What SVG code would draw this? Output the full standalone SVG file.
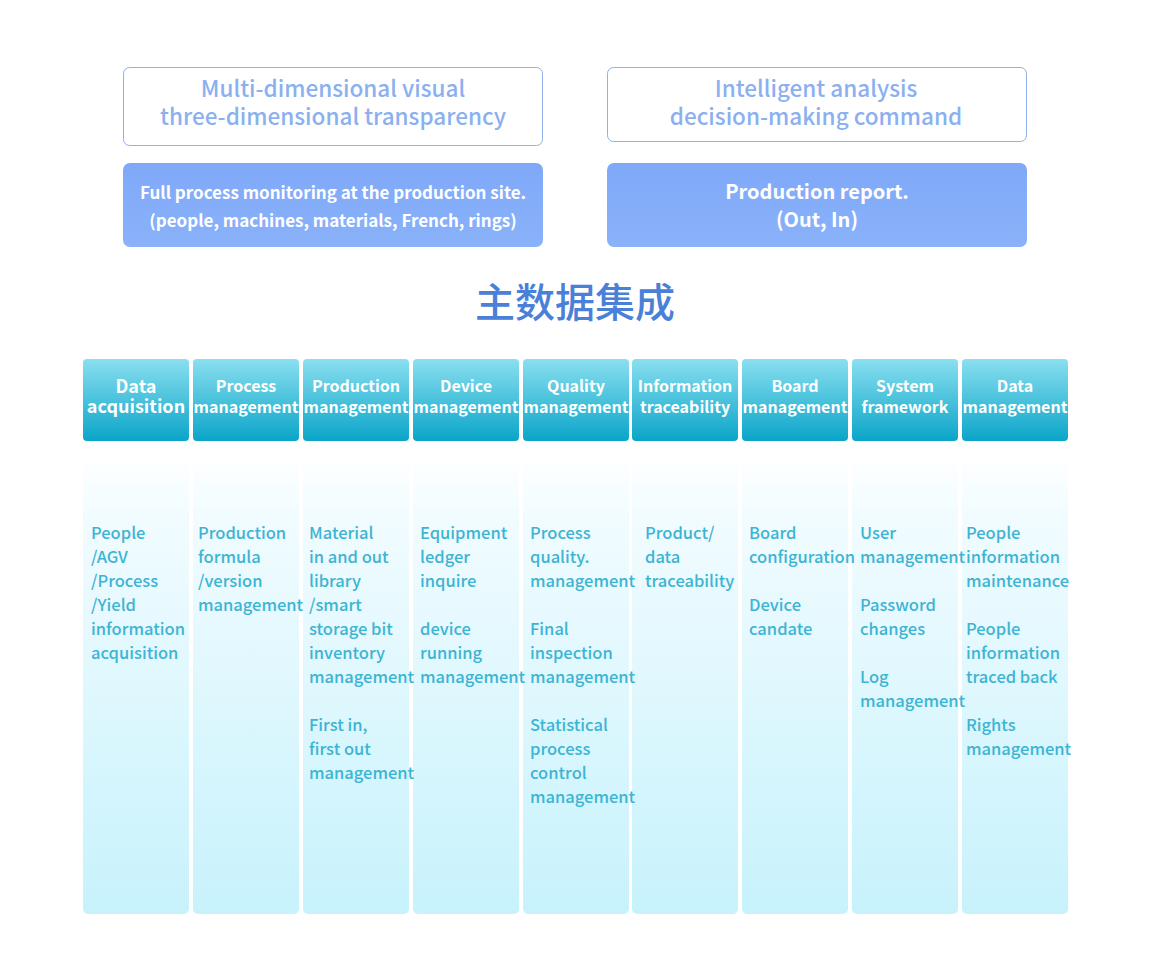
<svg xmlns="http://www.w3.org/2000/svg" width="1150" height="975" viewBox="0 0 1150 975">
<defs>
<linearGradient id="hg" x1="0" y1="0" x2="0" y2="1">
<stop offset="0" stop-color="#8adff0"/>
<stop offset="1" stop-color="#0aa5c8"/>
</linearGradient>
<linearGradient id="bg" x1="0" y1="0" x2="0" y2="1">
<stop offset="0" stop-color="#ffffff"/>
<stop offset="0.12" stop-color="#f2fcff"/>
<stop offset="1" stop-color="#c7f2fc"/>
</linearGradient>
<linearGradient id="fg" x1="0" y1="0" x2="0" y2="1">
<stop offset="0" stop-color="#7fa8f8"/>
<stop offset="1" stop-color="#8ab2fa"/>
</linearGradient>
<style>
text{font-family:"Noto Sans CJK SC","Noto Sans",sans-serif}
.ob{fill:#fff;stroke:#8fb0ea;stroke-width:1}
.ot{fill:#8ab0f0;font-size:22.5px;font-weight:500;text-anchor:middle}
.fb{fill:url(#fg)}
.ft{fill:#fff;font-size:17px;font-weight:700;text-anchor:middle}
.ft2{fill:#fff;font-size:20px;font-weight:700;text-anchor:middle}
.hb{fill:url(#hg)}
.ht{fill:#fff;font-size:16px;font-weight:700;text-anchor:middle}
.hl{font-size:18px}
.bb{fill:url(#bg)}
.bt{fill:#3cb4d4;font-size:16.5px;font-weight:500}
.title{fill:#4a80d8;font-size:40px;font-weight:500;text-anchor:middle}
</style>
</defs>
<rect width="1150" height="975" fill="#fff"/>
<g id="top-left">
<rect class="ob" x="123.5" y="67.5" width="419" height="78" rx="6"/>
<text class="ot"><tspan x="333" y="97">Multi-dimensional visual</tspan><tspan x="333" y="125">three-dimensional transparency</tspan></text>
</g>
<g id="top-right">
<rect class="ob" x="607.5" y="67.5" width="419" height="74" rx="6"/>
<text class="ot"><tspan x="816" y="97">Intelligent analysis</tspan><tspan x="816" y="125">decision-making command</tspan></text>
</g>
<g id="fill-left">
<rect class="fb" x="123" y="163" width="420" height="84" rx="7"/>
<text class="ft"><tspan x="333" y="199">Full process monitoring at the production site.</tspan><tspan x="333" y="227">(people, machines, materials, French, rings)</tspan></text>
</g>
<g id="fill-right">
<rect class="fb" x="607" y="163" width="420" height="84" rx="7"/>
<text class="ft2"><tspan x="817" y="199">Production report.</tspan><tspan x="817" y="227">(Out, In)</tspan></text>
</g>
<g id="title"><text class="title" x="575" y="317">主数据集成</text></g>
<g id="columns">
<g id="c1"><rect class="hb" x="83" y="359" width="106" height="82" rx="4"/><text class="ht hl"><tspan x="136" y="393">Data</tspan><tspan x="136" y="413">acquisition</tspan></text><rect class="bb" x="83" y="455" width="106" height="459" rx="5"/></g>
<g id="c2"><rect class="hb" x="193" y="359" width="106" height="82" rx="4"/><text class="ht"><tspan x="246" y="392">Process</tspan><tspan x="246" y="413">management</tspan></text><rect class="bb" x="193" y="455" width="106" height="459" rx="5"/></g>
<g id="c3"><rect class="hb" x="303" y="359" width="106" height="82" rx="4"/><text class="ht"><tspan x="356" y="392">Production</tspan><tspan x="356" y="413">management</tspan></text><rect class="bb" x="303" y="455" width="106" height="459" rx="5"/></g>
<g id="c4"><rect class="hb" x="413" y="359" width="106" height="82" rx="4"/><text class="ht"><tspan x="466" y="392">Device</tspan><tspan x="466" y="413">management</tspan></text><rect class="bb" x="413" y="455" width="106" height="459" rx="5"/></g>
<g id="c5"><rect class="hb" x="523" y="359" width="106" height="82" rx="4"/><text class="ht"><tspan x="576" y="392">Quality</tspan><tspan x="576" y="413">management</tspan></text><rect class="bb" x="523" y="455" width="106" height="459" rx="5"/></g>
<g id="c6"><rect class="hb" x="632" y="359" width="106" height="82" rx="4"/><text class="ht"><tspan x="685" y="392">Information</tspan><tspan x="685" y="413">traceability</tspan></text><rect class="bb" x="632" y="455" width="106" height="459" rx="5"/></g>
<g id="c7"><rect class="hb" x="742" y="359" width="106" height="82" rx="4"/><text class="ht"><tspan x="795" y="392">Board</tspan><tspan x="795" y="413">management</tspan></text><rect class="bb" x="742" y="455" width="106" height="459" rx="5"/></g>
<g id="c8"><rect class="hb" x="852" y="359" width="106" height="82" rx="4"/><text class="ht"><tspan x="905" y="392">System</tspan><tspan x="905" y="413">framework</tspan></text><rect class="bb" x="852" y="455" width="106" height="459" rx="5"/></g>
<g id="c9"><rect class="hb" x="962" y="359" width="106" height="82" rx="4"/><text class="ht"><tspan x="1015" y="392">Data</tspan><tspan x="1015" y="413">management</tspan></text><rect class="bb" x="962" y="455" width="106" height="459" rx="5"/></g>
</g>
<g id="column-texts">
<text id="t1" class="bt"><tspan x="91" y="539">People</tspan><tspan x="91" y="563">/AGV</tspan><tspan x="91" y="587">/Process</tspan><tspan x="91" y="611">/Yield</tspan><tspan x="91" y="635">information</tspan><tspan x="91" y="659">acquisition</tspan></text>
<text id="t2" class="bt"><tspan x="198" y="539">Production</tspan><tspan x="198" y="563">formula</tspan><tspan x="198" y="587">/version</tspan><tspan x="198" y="611">management</tspan></text>
<text id="t3" class="bt"><tspan x="309" y="539">Material</tspan><tspan x="309" y="563">in and out</tspan><tspan x="309" y="587">library</tspan><tspan x="309" y="611">/smart</tspan><tspan x="309" y="635">storage bit</tspan><tspan x="309" y="659">inventory</tspan><tspan x="309" y="683">management</tspan><tspan x="309" y="731">First in,</tspan><tspan x="309" y="755">first out</tspan><tspan x="309" y="779">management</tspan></text>
<text id="t4" class="bt"><tspan x="420" y="539">Equipment</tspan><tspan x="420" y="563">ledger</tspan><tspan x="420" y="587">inquire</tspan><tspan x="420" y="635">device</tspan><tspan x="420" y="659">running</tspan><tspan x="420" y="683">management</tspan></text>
<text id="t5" class="bt"><tspan x="530" y="539">Process</tspan><tspan x="530" y="563">quality.</tspan><tspan x="530" y="587">management</tspan><tspan x="530" y="635">Final</tspan><tspan x="530" y="659">inspection</tspan><tspan x="530" y="683">management</tspan><tspan x="530" y="731">Statistical</tspan><tspan x="530" y="755">process</tspan><tspan x="530" y="779">control</tspan><tspan x="530" y="803">management</tspan></text>
<text id="t6" class="bt"><tspan x="645" y="539">Product/</tspan><tspan x="645" y="563">data</tspan><tspan x="645" y="587">traceability</tspan></text>
<text id="t7" class="bt"><tspan x="749" y="539">Board</tspan><tspan x="749" y="563">configuration</tspan><tspan x="749" y="611">Device</tspan><tspan x="749" y="635">candate</tspan></text>
<text id="t8" class="bt"><tspan x="860" y="539">User</tspan><tspan x="860" y="563">management</tspan><tspan x="860" y="611">Password</tspan><tspan x="860" y="635">changes</tspan><tspan x="860" y="683">Log</tspan><tspan x="860" y="707">management</tspan></text>
<text id="t9" class="bt"><tspan x="966" y="539">People</tspan><tspan x="966" y="563">information</tspan><tspan x="966" y="587">maintenance</tspan><tspan x="966" y="635">People</tspan><tspan x="966" y="659">information</tspan><tspan x="966" y="683">traced back</tspan><tspan x="966" y="731">Rights</tspan><tspan x="966" y="755">management</tspan></text>
</g>
<g id="connectors"/>
</svg>
